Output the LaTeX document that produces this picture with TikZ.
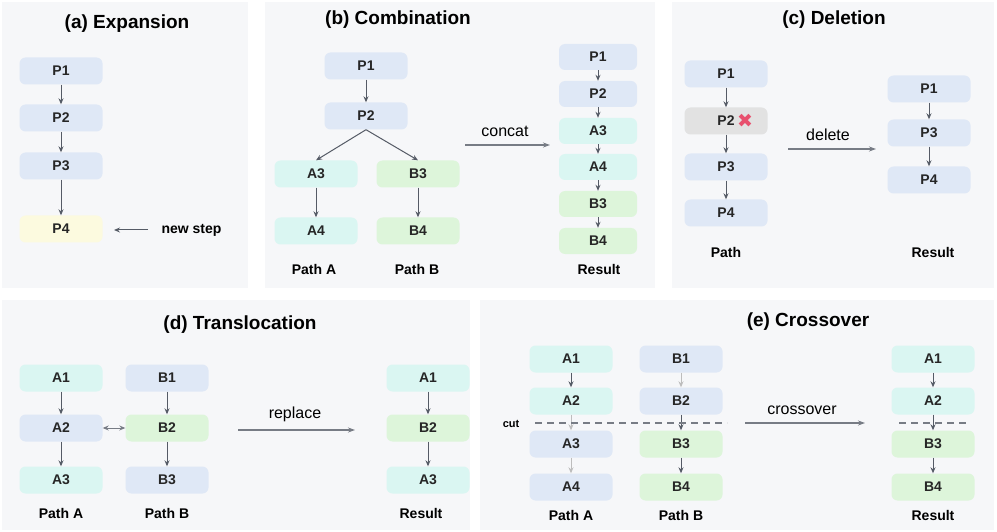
\documentclass[tikz,border=0pt]{standalone}
\usepackage{fontspec}
\setmainfont{Liberation Sans}
\newfontfamily\symf{DejaVu Sans}
\usetikzlibrary{arrows.meta}
\definecolor{bg}{HTML}{F6F7F9}
\definecolor{cb}{HTML}{DFE8F6}
\definecolor{cc}{HTML}{DAF6F2}
\definecolor{cg}{HTML}{DDF5DA}
\definecolor{cy}{HTML}{FCFADF}
\definecolor{cgr}{HTML}{E2E2E2}
\definecolor{ar}{HTML}{555B66}
\definecolor{lar}{HTML}{BDBDBD}
\definecolor{xr}{HTML}{E8506E}
\begin{document}
\begin{tikzpicture}[x=1pt,y=-1pt,
 box/.style={rounded corners=6pt,minimum width=83pt,minimum height=27pt,inner sep=0pt,font=\bfseries\fontsize{14}{16}\selectfont,text=black!85},
 sbox/.style={box,minimum width=78pt,minimum height=26pt},
 B/.style={fill=cb},C/.style={fill=cc},G/.style={fill=cg},Y/.style={fill=cy},
 pnl/.style={fill=bg,draw=none},
 ttl/.style={font=\bfseries\fontsize{19}{21}\selectfont},
 lab/.style={font=\bfseries\fontsize{14}{16}\selectfont},
 op/.style={font=\fontsize{16}{18}\selectfont},
 a/.style={draw=ar,line width=1pt,-{Stealth[length=6pt,width=5pt]}},
 la/.style={draw=lar,line width=1pt,-{Stealth[length=6pt,width=5pt]}},
 big/.style={draw=ar!80,line width=1.1pt,-{Stealth[length=7pt,width=5pt]}},
 cut/.style={draw=ar!80,line width=1.4pt,dash pattern=on 7pt off 5pt}]
\useasboundingbox (0,0) rectangle (997,532);
\fill[white] (0,0) rectangle (997,532);
\fill[pnl] (2,2) rectangle (248,288);
\fill[pnl] (265,2) rectangle (655,288);
\fill[pnl] (672,2) rectangle (994,288);
\fill[pnl] (2,300) rectangle (470,530);
\fill[pnl] (480,300) rectangle (994,530);
% (a)
\node[ttl] (ta) at (127,24) {(a) Expansion};
\node[box,B] (a1) at (61,71) {P1};
\node[box,B] (a2) at (61,118) {P2};
\node[box,B] (a3) at (61,166) {P3};
\node[box,Y] (a4) at (61,229) {P4};
\draw[a] (a1)--(a2); \draw[a] (a2)--(a3); \draw[a] (a3)--(a4);
\node[lab,anchor=west] (ns) at (158,230) {new step};
\coordinate (nsa) at (148,230);
\draw[a] (nsa)--(114,230);
% (b)
\node[ttl] (tb) at (398,20) {(b) Combination};
\node[box,B] (b1) at (366,66) {P1};
\node[box,B] (b2) at (366,116) {P2};
\node[box,C] (ba3) at (316,174) {A3};
\node[box,G] (bb3) at (418,174) {B3};
\node[box,C] (ba4) at (316,231) {A4};
\node[box,G] (bb4) at (418,231) {B4};
\draw[a] (b1)--(b2);
\draw[a] (b2.south)--(ba3.north);
\draw[a] (b2.south)--(bb3.north);
\draw[a] (ba3)--(ba4); \draw[a] (bb3)--(bb4);
\node[lab] (pa) at (314,269) {Path A};
\node[lab] (pb) at (417,269) {Path B};
\coordinate (cs) at (465,145); \coordinate (ce) at (550,145);
\draw[big] (cs)--(ce);
\node[op] (cl) at (505,131) {concat};
\node[sbox,B] (r1) at (598,57) {P1};
\node[sbox,B] (r2) at (598,94) {P2};
\node[sbox,C] (r3) at (598,131) {A3};
\node[sbox,C] (r4) at (598,167) {A4};
\node[sbox,G] (r5) at (598,204) {B3};
\node[sbox,G] (r6) at (598,241) {B4};
\draw[a] (r1)--(r2); \draw[a] (r2)--(r3); \draw[a] (r3)--(r4); \draw[a] (r4)--(r5); \draw[a] (r5)--(r6);
\node[lab] (rl) at (599,269) {Result};
% (c)
\node[ttl] (tc) at (834,20) {(c) Deletion};
\node[box,B] (c1) at (726,74) {P1};
\node[box,fill=cgr] (c2) at (726,121) {P2\hspace{14pt}};
\node[text=xr,font=\symf\bfseries\fontsize{19}{19}\selectfont] (cx) at (745,121) {✖};
\node[box,B] (c3) at (726,167) {P3};
\node[box,B] (c4) at (726,213) {P4};
\draw[a] (c1)--(c2); \draw[a] (c2)--(c3); \draw[a] (c3)--(c4);
\node[lab] (cp) at (726,252) {Path};
\coordinate (ds) at (788,149); \coordinate (de) at (876,149);
\draw[big] (ds)--(de);
\node[op] (dl) at (828,135) {delete};
\node[box,B] (cr1) at (929,89) {P1};
\node[box,B] (cr3) at (929,133) {P3};
\node[box,B] (cr4) at (929,180) {P4};
\draw[a] (cr1)--(cr3); \draw[a] (cr3)--(cr4);
\node[lab] (cr) at (933,252) {Result};
% (d)
\node[ttl] (td) at (240,325) {(d) Translocation};
\node[box,C] (da1) at (61,378) {A1};
\node[box,B] (da2) at (61,428) {A2};
\node[box,C] (da3) at (61,480) {A3};
\node[box,B] (db1) at (167,378) {B1};
\node[box,G] (db2) at (167,428) {B2};
\node[box,B] (db3) at (167,480) {B3};
\draw[a] (da1)--(da2); \draw[a] (da2)--(da3);
\draw[a] (db1)--(db2); \draw[a] (db2)--(db3);
\draw[draw=ar!80,line width=1pt,{Stealth[length=6pt,width=5pt]}-{Stealth[length=6pt,width=5pt]}] (da2)--(db2);
\node[lab] (dpa) at (61,513) {Path A};
\node[lab] (dpb) at (167,513) {Path B};
\coordinate (rs) at (238,430); \coordinate (re) at (355,430);
\draw[big] (rs)--(re);
\node[op] (rl2) at (295,414) {replace};
\node[box,C] (dr1) at (428,378) {A1};
\node[box,G] (dr2) at (428,428) {B2};
\node[box,C] (dr3) at (428,480) {A3};
\draw[a] (dr1)--(dr2); \draw[a] (dr2)--(dr3);
\node[lab] (drl) at (421,513) {Result};
% (e)
\node[ttl] (te) at (808,322) {(e) Crossover};
\node[box,C] (ea1) at (571,359) {A1};
\node[box,C] (ea2) at (571,401) {A2};
\node[box,B] (ea3) at (571,444) {A3};
\node[box,B] (ea4) at (571,487) {A4};
\node[box,B] (eb1) at (681,359) {B1};
\node[box,B] (eb2) at (681,401) {B2};
\node[box,G] (eb3) at (681,444) {B3};
\node[box,G] (eb4) at (681,487) {B4};
\draw[a] (ea1)--(ea2); \draw[la] (ea2)--(ea3); \draw[la] (ea3)--(ea4);
\draw[la] (eb1)--(eb2); \draw[a] (eb2)--(eb3); \draw[a] (eb3)--(eb4);
\coordinate (c1s) at (535,423); \coordinate (c1e) at (727,423);
\draw[cut] (c1s)--(c1e);
\node[font=\bfseries\fontsize{11}{13}\selectfont] (cutl) at (511,424) {cut};
\node[lab] (epa) at (571,515) {Path A};
\node[lab] (epb) at (681,515) {Path B};
\coordinate (xs) at (745,423); \coordinate (xe) at (865,423);
\draw[big] (xs)--(xe);
\node[op] (xl) at (802,410) {crossover};
\node[box,C] (er1) at (933,359) {A1};
\node[box,C] (er2) at (933,401) {A2};
\node[box,G] (er3) at (933,444) {B3};
\node[box,G] (er4) at (933,487) {B4};
\draw[a] (er1)--(er2); \draw[a] (er2)--(er3); \draw[a] (er3)--(er4);
\coordinate (c2s) at (899,423); \coordinate (c2e) at (967,423);
\draw[cut] (c2s)--(c2e);
\node[lab] (erl) at (933,515) {Result};
\end{tikzpicture}
\end{document}
